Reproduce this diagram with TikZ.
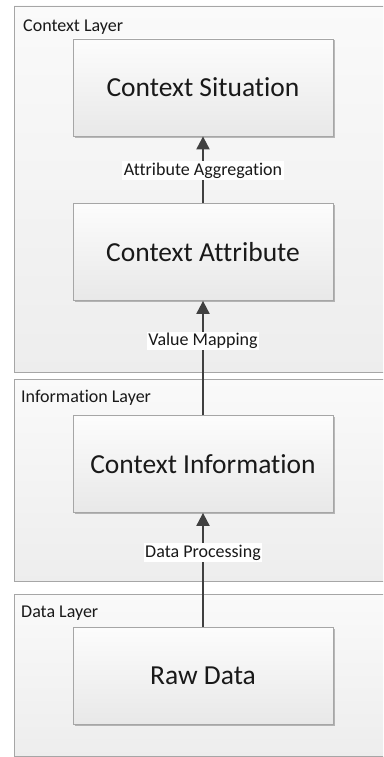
\documentclass[tikz,border=0pt]{standalone}
\usepackage{fontspec}
\setmainfont{Carlito}[Ligatures={NoCommon}]
\usetikzlibrary{arrows.meta,shadows}
\definecolor{edgegray}{HTML}{A6A6A6}
\definecolor{arrowgray}{HTML}{404040}
\tikzset{
  layer/.style={draw=edgegray, line width=0.8pt, top color=white!98!black, bottom color=white!93!black},
  layerlabel/.style={anchor=base west, inner sep=0pt, font=\fontsize{18}{21}\selectfont, text=black!90},
  unit/.style={draw=edgegray, line width=0.8pt, top color=white!99!black, bottom color=white!91!black,
    minimum width=260pt, minimum height=97pt, inner sep=0pt,
    font=\fontsize{27.5}{32}\selectfont, text=black!90,
    drop shadow={shadow xshift=1.5pt, shadow yshift=-1.5pt, opacity=0.25, fill=black}},
  flow/.style={draw=arrowgray, line width=2pt, -{Triangle[length=13pt, width=13pt]}},
  flowlabel/.style={fill=white, inner sep=1.5pt, font=\fontsize{18}{21}\selectfont, text=black!90}
}
\begin{document}
\begin{tikzpicture}[x=1pt, y=-1pt]
  \useasboundingbox (0,0) rectangle (383,757);
  \fill[white] (0,0) rectangle (383,757);
  \begin{scope}
    \clip (0,0) rectangle (383,757);
    % layers
    \path[layer] (14,6) rectangle (395,372);
    \path[layer] (14,379) rectangle (395,581);
    \path[layer] (14,594) rectangle (395,756);
  \end{scope}
  \node[layerlabel] (lctx) at (23,32) {Context Layer};
  \node[layerlabel] (linfo) at (21,402.5) {Information Layer};
  \node[layerlabel] (ldata) at (21,617.5) {Data Layer};

  % processing stages
  \node[unit] (sit)  at (203,87.5)  {Context Situation};
  \node[unit] (attr) at (203,252)   {Context Attribute};
  \node[unit] (info) at (203,464)   {Context Information};
  \node[unit] (raw)  at (203,675.5) {Raw Data};

  % transitions between stages
  \draw[flow] (raw.north) -- node[flowlabel, pos=0.65] {Data Processing} (info.south);
  \draw[flow] (info.north) -- node[flowlabel, pos=0.65] {Value Mapping} (attr.south);
  \draw[flow] (attr.north) -- node[flowlabel, pos=0.49] {Attribute Aggregation} (sit.south);
\end{tikzpicture}
\end{document}
